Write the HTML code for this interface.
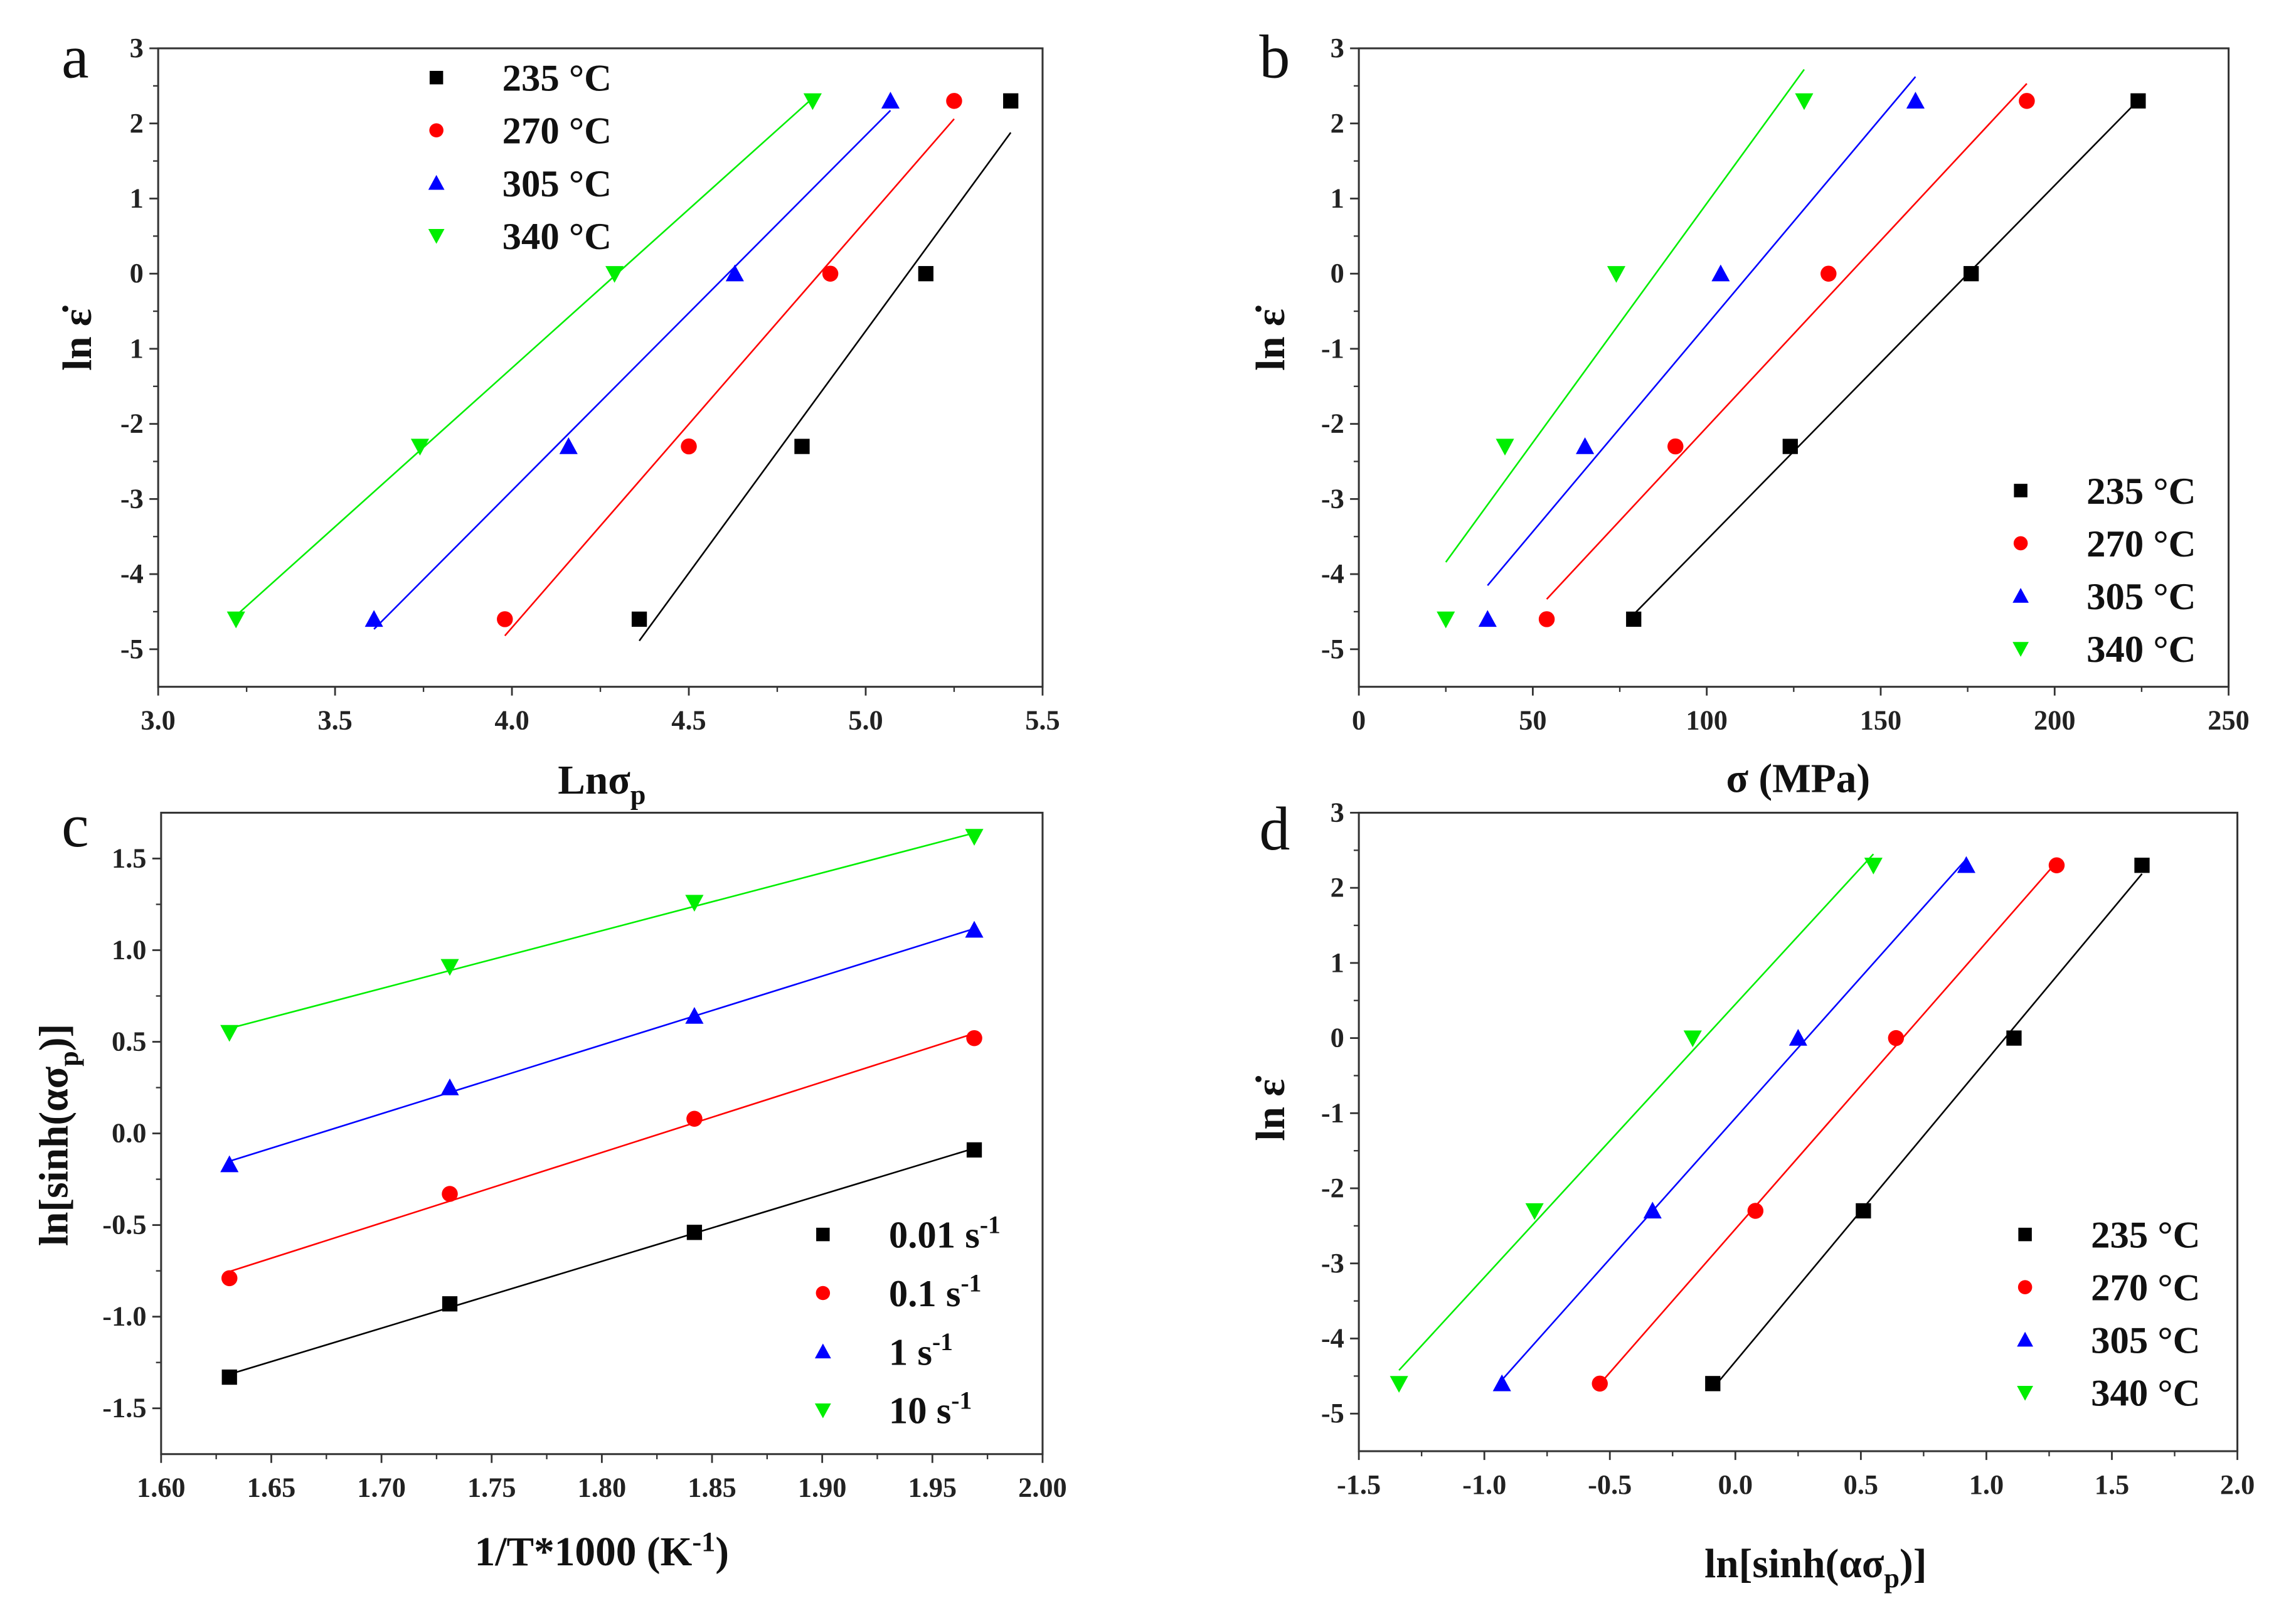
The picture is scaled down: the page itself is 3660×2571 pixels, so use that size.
<!DOCTYPE html>
<html><head><meta charset="utf-8"><style>
html,body{margin:0;padding:0;background:#fff;}
svg{display:block;}
text{font-family:"Liberation Serif",serif;}
</style></head><body>
<svg id="fig" width="3660" height="2571" viewBox="0 0 1568 1101.5" xmlns="http://www.w3.org/2000/svg"></svg>
<script>
// ---- Data ----
const tempLabels = ["235 °C","270 °C","305 °C","340 °C"];
const rateLabels = ["0.01","0.1","1","10"];
const colors = ["#000000","#ff0000","#0000ff","#00ee00"];
const markers = ["square","circle","up","down"];
const lnRateY = [-4.6,-2.3,0,2.3];
// panel a: ln sigma_p
const aX235 = [4.36,4.82,5.17,5.41];
const aX270 = [3.98,4.50,4.90,5.25];
const aX305 = [3.61,4.16,4.63,5.07];
const aX340 = [3.22,3.74,4.29,4.85];
// panel b: sigma (MPa)
const bX235 = [79,124,176,224];
const bX270 = [54,91,135,192];
const bX305 = [37,65,104,160];
const bX340 = [25,42,74,128];
// panel c
const cX = [1.631,1.731,1.842,1.969];
const cY001 = [-1.33,-0.93,-0.54,-0.09];
const cY01 = [-0.79,-0.33,0.08,0.52];
const cY1 = [-0.17,0.25,0.64,1.11];
const cY10 = [0.55,0.91,1.26,1.62];
// panel d
const dX235 = [-0.09,0.51,1.11,1.62];
const dX270 = [-0.54,0.08,0.64,1.28];
const dX305 = [-0.93,-0.33,0.25,0.92];
const dX340 = [-1.34,-0.80,-0.17,0.55];
// tick labels
const aXTicks = [3.0,3.5,4.0,4.5,5.0,5.5];
const aXLabels = ["3.0","3.5","4.0","4.5","5.0","5.5"];
const lnYTicks = [-5,-4,-3,-2,-1,0,1,2,3];
const aYLabels = ["-5","-4","-3","-2","1","0","1","2","3"];
const lnYLabels = ["-5","-4","-3","-2","-1","0","1","2","3"];
const bXTicks = [0,50,100,150,200,250];
const bXLabels = ["0","50","100","150","200","250"];
const cXTicks = [1.60,1.65,1.70,1.75,1.80,1.85,1.90,1.95,2.00];
const cXLabels = ["1.60","1.65","1.70","1.75","1.80","1.85","1.90","1.95","2.00"];
const cYTicks = [-1.5,-1.0,-0.5,0.0,0.5,1.0,1.5];
const cYLabels = ["-1.5","-1.0","-0.5","0.0","0.5","1.0","1.5"];
const dXTicks = [-1.5,-1.0,-0.5,0.0,0.5,1.0,1.5,2.0];
const dXLabels = ["-1.5","-1.0","-0.5","0.0","0.5","1.0","1.5","2.0"];

const NS = "http://www.w3.org/2000/svg";
const svg = document.getElementById("fig");
function el(tag, attrs, parent){
  const e = document.createElementNS(NS, tag);
  for (const k in attrs) e.setAttribute(k, attrs[k]);
  (parent||svg).appendChild(e);
  return e;
}
function marker(g, type, cx, cy, color, s){
  let m;
  if (type==="square") m = el("rect",{x:cx-s,y:cy-s,width:2*s,height:2*s,fill:color},g);
  else if (type==="circle") m = el("circle",{cx:cx,cy:cy,r:s*1.05,fill:color},g);
  else if (type==="up") m = el("polygon",{points:`${cx-s*1.2},${cy+s} ${cx+s*1.2},${cy+s} ${cx},${cy-s*1.2}`,fill:color},g);
  else m = el("polygon",{points:`${cx-s*1.2},${cy-s} ${cx+s*1.2},${cy-s} ${cx},${cy+s*1.2}`,fill:color},g);
  return m;
}
function fit(xs, ys){
  const n=xs.length; let mx=0,my=0; for(let i=0;i<n;i++){mx+=xs[i];my+=ys[i];} mx/=n;my/=n;
  let sxy=0,sxx=0; for(let i=0;i<n;i++){sxy+=(xs[i]-mx)*(ys[i]-my);sxx+=(xs[i]-mx)**2;}
  const b=sxy/sxx; return [b, my-b*mx];
}
function panel(cfg){
  const g = el("g",{});
  
  
  const {L,R,T,B,x0,x1,y0,y1} = cfg;
  const sx = v => L + (v-x0)/(x1-x0)*(R-L);
  const sy = v => B - (v-y0)/(y1-y0)*(B-T);
  const frame = el("rect",{x:L,y:T,width:R-L,height:B-T,fill:"none",stroke:"#333",'stroke-width':1.3},g);
  
  
  cfg.xTicks.forEach((v,i)=>{
    const x=sx(v);
    el("line",{x1:x,y1:B,x2:x,y2:B+6,stroke:"#333",'stroke-width':1.2},g);
    if (i<cfg.xTicks.length-1){ const xm=sx((v+cfg.xTicks[i+1])/2); el("line",{x1:xm,y1:B,x2:xm,y2:B+3.5,stroke:"#333",'stroke-width':1},g); }
    const t=el("text",{x:x,y:B+29,'text-anchor':"middle",'font-size':19,'font-weight':"bold",fill:"#222"},g);
    t.textContent=cfg.xLabels[i];
    
    
  });
  cfg.yTicks.forEach((v,i)=>{
    const y=sy(v);
    el("line",{x1:L-6,y1:y,x2:L,y2:y,stroke:"#333",'stroke-width':1.2},g);
    if (i<cfg.yTicks.length-1){ const ym=sy((v+cfg.yTicks[i+1])/2); el("line",{x1:L-3.5,y1:ym,x2:L,y2:ym,stroke:"#333",'stroke-width':1},g); }
    const t=el("text",{x:L-10,y:y+6,'text-anchor':"end",'font-size':19,'font-weight':"bold",fill:"#222"},g);
    t.textContent=cfg.yLabels[i];
    
    
  });
  cfg.series.forEach((s,k)=>{
    const sg = el("g",{},g);
    
    
    const [b,a]=fit(s.x,s.y);
    const xa=Math.min(...s.x), xb=Math.max(...s.x);
    const ln=el("line",{x1:sx(xa),y1:sy(a+b*xa),x2:sx(xb),y2:sy(a+b*xb),stroke:colors[k],'stroke-width':1.1},sg);
    
    
    s.x.forEach((xv,i)=>{
      const m=marker(sg,markers[k],sx(xv),sy(s.y[i]),colors[k],5.2);
      
      
    });
  });
  const lg = el("g",{},g);
  
  
  cfg.series.forEach((s,k)=>{
    const y=cfg.legY+k*cfg.legDy;
    const m=marker(lg,markers[k],cfg.legX,y,colors[k],4.6);
    
    
    const t=el("text",{x:cfg.legX+45,y:y+9,'font-size':26,'font-weight':"bold",fill:"#111"},lg);
    if (cfg.rate){ t.textContent=s.label+" s"; const sp=el("tspan",{dy:-10,'font-size':17},t); sp.textContent="-1"; }
    else t.textContent=s.label;
    
    
  });
  const pl=el("text",{x:cfg.letterX,y:cfg.letterY,'font-size':42,fill:"#111"},g);
  pl.textContent=cfg.letter;
  
  
  return g;
}
function title(x,y,rot,html,name){
  const t=el("text",{x:x,y:y,'text-anchor':"middle",'font-size':28,'font-weight':"bold",fill:"#111",transform:rot?`rotate(-90 ${x} ${y})`:""});
  t.innerHTML=html;
  
  
}
panel({name:"panel-a",letter:"a",letterX:42,letterY:53,L:108,R:712,T:33,B:469,x0:3.0,x1:5.5,y0:-5.5,y1:3,
  xTicks:aXTicks,xLabels:aXLabels,yTicks:lnYTicks,yLabels:aYLabels,legX:298,legY:53,legDy:36,
  series:[{x:aX235,y:lnRateY,label:tempLabels[0]},{x:aX270,y:lnRateY,label:tempLabels[1]},{x:aX305,y:lnRateY,label:tempLabels[2]},{x:aX340,y:lnRateY,label:tempLabels[3]}]});
panel({name:"panel-b",letter:"b",letterX:860,letterY:53,L:928,R:1522,T:33,B:469,x0:0,x1:250,y0:-5.5,y1:3,
  xTicks:bXTicks,xLabels:bXLabels,yTicks:lnYTicks,yLabels:lnYLabels,legX:1380,legY:335,legDy:36,
  series:[{x:bX235,y:lnRateY,label:tempLabels[0]},{x:bX270,y:lnRateY,label:tempLabels[1]},{x:bX305,y:lnRateY,label:tempLabels[2]},{x:bX340,y:lnRateY,label:tempLabels[3]}]});
panel({name:"panel-c",letter:"c",letterX:42,letterY:578,L:110,R:712,T:555,B:993,x0:1.60,x1:2.00,y0:-1.75,y1:1.75,
  xTicks:cXTicks,xLabels:cXLabels,yTicks:cYTicks,yLabels:cYLabels,legX:562,legY:843,legDy:40,rate:true,
  series:[{x:cX,y:cY001,label:rateLabels[0]},{x:cX,y:cY01,label:rateLabels[1]},{x:cX,y:cY1,label:rateLabels[2]},{x:cX,y:cY10,label:rateLabels[3]}]});
panel({name:"panel-d",letter:"d",letterX:860,letterY:580,L:928,R:1528,T:555,B:991,x0:-1.5,x1:2.0,y0:-5.5,y1:3,
  xTicks:dXTicks,xLabels:dXLabels,yTicks:lnYTicks,yLabels:lnYLabels,legX:1383,legY:843,legDy:36,
  series:[{x:dX235,y:lnRateY,label:tempLabels[0]},{x:dX270,y:lnRateY,label:tempLabels[1]},{x:dX305,y:lnRateY,label:tempLabels[2]},{x:dX340,y:lnRateY,label:tempLabels[3]}]});
title(62,232,true,'ln ε̇','y-axis-title-a');
title(411,542,false,'Lnσ<tspan dy="7" font-size="19">p</tspan>','x-axis-title-a');
title(877,232,true,'ln ε̇','y-axis-title-b');
title(1228,541,false,'σ (MPa)','x-axis-title-b');
title(46,775,true,'ln[sinh(ασ<tspan dy="7" font-size="19">p</tspan><tspan dy="-7">)]</tspan>','y-axis-title-c');
title(411,1069,false,'1/T*1000 (K<tspan dy="-10" font-size="19">-1</tspan><tspan dy="10">)</tspan>','x-axis-title-c');
title(877,758,true,'ln ε̇','y-axis-title-d');
title(1240,1077,false,'ln[sinh(ασ<tspan dy="7" font-size="19">p</tspan><tspan dy="-7">)]</tspan>','x-axis-title-d');
</script>
</body></html>
